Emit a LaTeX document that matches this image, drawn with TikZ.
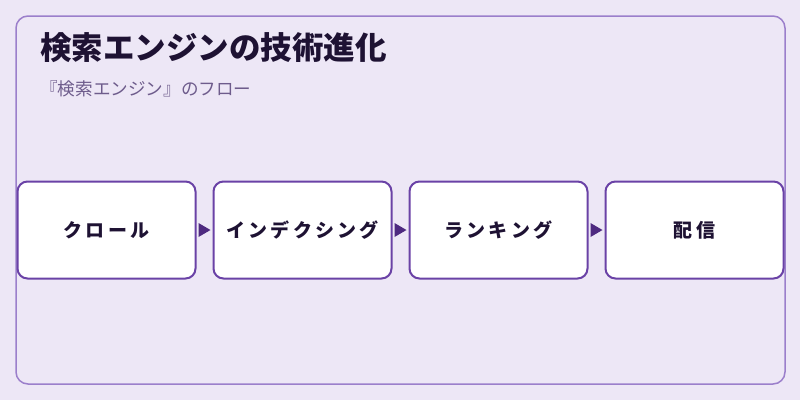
\documentclass[tikz,border=0pt]{standalone}
\usepackage{fontspec}
\newfontfamily\jp{Noto Sans CJK JP}
\definecolor{bg}{HTML}{EDE7F6}
\definecolor{frame}{HTML}{9B7FCB}
\definecolor{boxline}{HTML}{6A42A6}
\definecolor{arrowc}{HTML}{4E2A80}
\definecolor{titlec}{HTML}{1E1233}
\definecolor{subc}{HTML}{6E5C8C}
\tikzset{
  stepbox/.style={draw=boxline, line width=2pt, fill=white, rounded corners=10pt,
    minimum width=178pt, minimum height=97pt, inner sep=0pt,
    font=\jp\bfseries\fontsize{19}{22}\selectfont, text=titlec},
  flowtip/.style={fill=arrowc}
}
\begin{document}
\begin{tikzpicture}[x=1pt,y=-1pt]
\useasboundingbox (0,0) rectangle (800,400);
\fill[bg] (0,0) rectangle (800,400);
\draw[frame, line width=1.5pt, rounded corners=12pt] (16,16) rectangle (785,384);
\node[anchor=base west, font=\jp\bfseries\fontsize{31.5}{36}\selectfont, text=titlec, inner sep=0pt] (title) at (40,59) {検索エンジンの技術進化};
\node[anchor=base west, font=\jp\fontsize{17.6}{21}\selectfont, text=subc, inner sep=0pt] (sub) at (40,95) {『検索エンジン』のフロー};
\node[stepbox] (s1) at (106.5,230) {ク\,ロ\,ー\,ル};
\node[stepbox] (s2) at (302.5,230) {イ\,ン\,デ\,ク\,シ\,ン\,グ};
\node[stepbox] (s3) at (498.5,230) {ラ\,ン\,キ\,ン\,グ};
\node[stepbox] (s4) at (694.5,230) {配\,信};
\foreach \a/\b in {s1/s2,s2/s3,s3/s4}{
  \fill[flowtip] ([xshift=2pt]\a.east) ++(0,-7) -- ++(12,7) -- ++(-12,7) -- cycle;
}
\end{tikzpicture}
\end{document}
